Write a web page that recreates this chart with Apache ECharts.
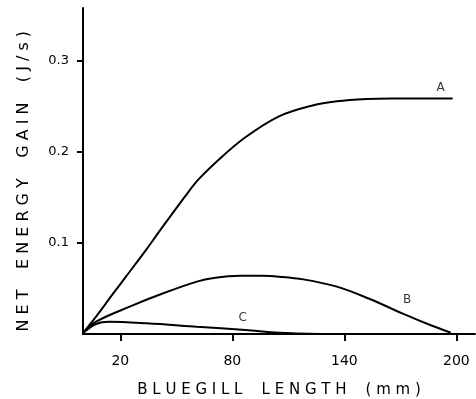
<!DOCTYPE html>
<html>
<head>
<meta charset="utf-8">
<script src="https://cdn.jsdelivr.net/npm/echarts@6/dist/echarts.min.js"></script>
<style>html,body{margin:0;padding:0;background:#fff;}#c{width:476px;height:399px;}</style>
</head>
<body>
<div id="c"></div>
<script>
// Curve A: [length (mm), net energy gain (J/s)]
var curveA = [[0,0.001],[7,0.019],[16,0.044],[23,0.063],[34,0.093],[41,0.113],[55,0.152],[62,0.170],[73,0.192],[87,0.216],[105,0.239],[123,0.251],[136,0.2555],[152,0.258],[165,0.2586],[198,0.2586]];
var curveB = [[0,0.001],[7,0.0135],[25,0.030],[43,0.0447],[61,0.0575],[70,0.0615],[84,0.064],[96,0.064],[105,0.063],[118,0.060],[136,0.052],[153,0.039],[171,0.0227],[186,0.0099],[197,0.0014]];
var curveC = [[0,0.001],[7,0.011],[14,0.0135],[34,0.0118],[61,0.008],[87,0.0044],[105,0.0014],[127,0.0]];
var curveNames = ['A','B','C'];
var labelPos = [[191.6,0.270],[173.7,0.0374],[85.6,0.0173]];
var xTicks = [20,80,140,200];
var yTicks = [0.1,0.2,0.3];

var chart = echarts.init(document.getElementById('c'));
var lineStyle = {color:'#000', width:2};
function mk(name, data){
  return {name:name, type:'line', data:data, smooth:0.35, showSymbol:false, symbol:'none', lineStyle:lineStyle, silent:true};
}
chart.setOption({
  animation:false,
  backgroundColor:'#fff',
  grid:{left:83, right:1, top:8, bottom:65, containLabel:false, outerBoundsMode:'none'},
  xAxis:{
    type:'value', min:0, max:210,
    name:'B L U E G I L L    L E N G T H    ( m m )',
    nameLocation:'middle', nameGap:49,
    nameTextStyle:{color:'#000', fontFamily:'DejaVu Sans', fontSize:15},
    axisLine:{show:true, onZero:false, lineStyle:{color:'#000', width:2}},
    axisTick:{show:true, length:7, lineStyle:{color:'#000', width:2}, customValues:xTicks},
    axisLabel:{color:'#000', fontFamily:'DejaVu Sans', fontSize:14, margin:20, customValues:xTicks},
    splitLine:{show:false}
  },
  yAxis:{
    type:'value', min:0, max:0.358,
    name:'N E T    E N E R G Y    G A I N    ( J / s )\u00a0\u00a0\u00a0\u00a0',
    nameLocation:'middle', nameGap:51,
    nameTextStyle:{color:'#000', fontFamily:'DejaVu Sans', fontSize:16},
    axisLine:{show:true, onZero:false, lineStyle:{color:'#000', width:2}},
    axisTick:{show:true, length:6, lineStyle:{color:'#000', width:2}, customValues:yTicks},
    axisLabel:{color:'#000', fontFamily:'DejaVu Sans', fontSize:13, margin:14, customValues:yTicks, formatter:function(v){return v.toFixed(1);}},
    splitLine:{show:false}
  },
  series:[
    mk('A', curveA), mk('B', curveB), mk('C', curveC),
    {type:'scatter', symbolSize:0, silent:true,
     data:labelPos.map(function(p,i){return {value:p, name:curveNames[i]};}),
     label:{show:true, position:'inside', formatter:'{b}', color:'#000', fontFamily:'DejaVu Sans', fontSize:12}}
  ]
});
</script>
</body>
</html>
